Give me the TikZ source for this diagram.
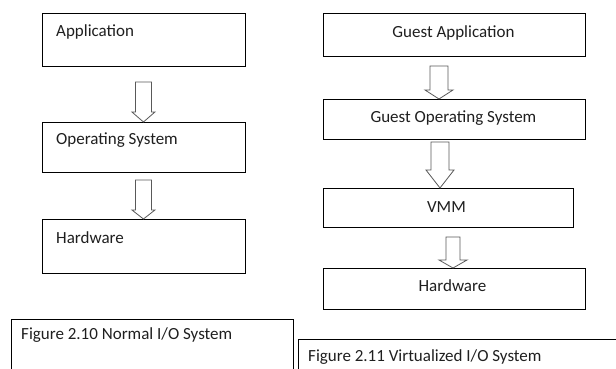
\documentclass[tikz,border=0pt]{standalone}
\usepackage{fontspec}
\setmainfont{Carlito}
\usetikzlibrary{calc}
\begin{document}
\begin{tikzpicture}[x=1pt,y=-1pt,
  every node/.style={font=\fontsize{17}{20}\selectfont, text=black!88},
  layerbox/.style={draw=black, line width=0.9pt, fill=white, inner sep=0pt, anchor=north west},
  boxlabel/.style={anchor=west, inner sep=0pt},
  centerlabel/.style={inner sep=0pt},
  blockarrow/.style={draw=black!65, line width=0.8pt, fill=white, line join=miter},
  captionframe/.style={draw=black, line width=0.8pt}
]
\useasboundingbox (0,0) rectangle (616,369);

% ---- normal I/O stack ----
\node[layerbox, minimum width=203pt, minimum height=53pt] (app) at (42,13) {};
\node[layerbox, minimum width=203pt, minimum height=50pt] (os)  at (42,122) {};
\node[layerbox, minimum width=203pt, minimum height=54pt] (hw)  at (42,219) {};
\node[boxlabel] (applbl) at ($(app.north west)+(14,19)$) {Application};
\node[boxlabel] (oslbl)  at ($(os.north west)+(14,18)$)  {Operating System};
\node[boxlabel] (hwlbl)  at ($(hw.north west)+(14,19)$)  {Hardware};

% ---- virtualized I/O stack ----
\node[layerbox, minimum width=262pt, minimum height=43pt] (gapp) at (323,13) {};
\node[layerbox, minimum width=262pt, minimum height=40pt] (gos)  at (323,99) {};
\node[layerbox, minimum width=250pt, minimum height=39pt] (vmm)  at (323,188) {};
\node[layerbox, minimum width=262pt, minimum height=41pt] (vhw)  at (323,268) {};
\node[centerlabel] (gapplbl) at ($(gapp.center)+(-1,-2)$) {Guest Application};
\node[centerlabel] (goslbl)  at ($(gos.center)+(-1,-1)$)  {Guest Operating System};
\node[centerlabel] (vmmlbl)  at ($(vmm.center)+(-2,-1)$)  {VMM};
\node[centerlabel] (vhwlbl)  at ($(vhw.center)+(-2,-3)$)  {Hardware};

% ---- block arrows: tip rests on the next layer ----
% left column
\draw[blockarrow] ($(os.north)+(-8.5,-40)$) -- ($(os.north)+(7.5,-40)$) -- ($(os.north)+(7.5,-10)$)
  -- ($(os.north)+(11,-10)$) -- ($(os.north)+(-0.5,0)$) -- ($(os.north)+(-12,-10)$)
  -- ($(os.north)+(-8.5,-10)$) -- cycle;
\draw[blockarrow] ($(hw.north)+(-8.5,-39)$) -- ($(hw.north)+(7.5,-39)$) -- ($(hw.north)+(7.5,-9)$)
  -- ($(hw.north)+(11,-9)$) -- ($(hw.north)+(-0.5,0)$) -- ($(hw.north)+(-12,-9)$)
  -- ($(hw.north)+(-8.5,-9)$) -- cycle;
% right column
\coordinate (t1) at (439,99);
\coordinate (t2) at (440,188);
\coordinate (t3) at (453,268);
\draw[blockarrow] ($(t1)+(-9,-33)$) -- ($(t1)+(9,-33)$) -- ($(t1)+(9,-9)$) -- ($(t1)+(14,-9)$)
  -- (t1) -- ($(t1)+(-14,-9)$) -- ($(t1)+(-9,-9)$) -- cycle;
\draw[blockarrow] ($(t2)+(-9,-46)$) -- ($(t2)+(9,-46)$) -- ($(t2)+(9,-18)$) -- ($(t2)+(14,-18)$)
  -- (t2) -- ($(t2)+(-14,-18)$) -- ($(t2)+(-9,-18)$) -- cycle;
\draw[blockarrow] ($(t3)+(-7,-31)$) -- ($(t3)+(7,-31)$) -- ($(t3)+(7,-8)$) -- ($(t3)+(14,-8)$)
  -- (t3) -- ($(t3)+(-14,-8)$) -- ($(t3)+(-7,-8)$) -- cycle;

% ---- captions ----
\draw[captionframe] (11,372) -- (11,319) -- (293,319) -- (293,372);
\node[boxlabel] (cap1) at (21,335) {Figure 2.10 Normal I/O System};
\draw[captionframe] (298,372) -- (298,339) -- (618,339);
\node[boxlabel] (cap2) at (308,357) {Figure 2.11 Virtualized I/O System};
\end{tikzpicture}
\end{document}
